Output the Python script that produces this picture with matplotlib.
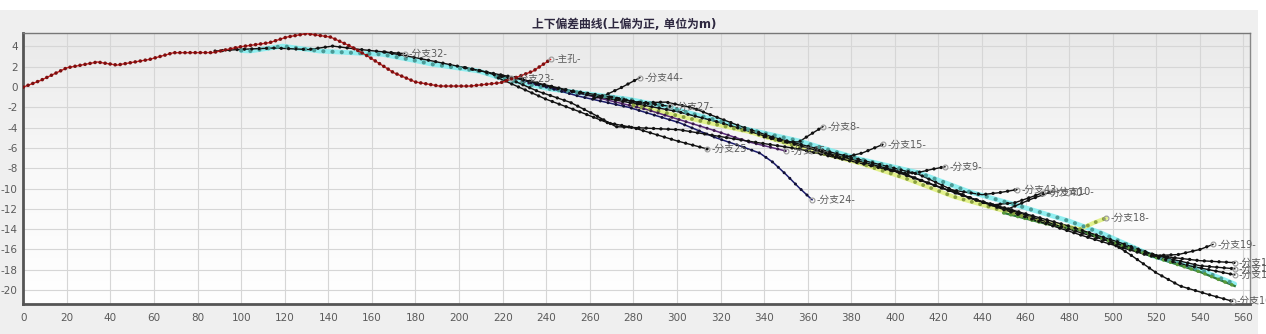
import numpy as np
import matplotlib
matplotlib.use('Agg')
import matplotlib.pyplot as plt
from matplotlib.patches import Rectangle
from matplotlib.colors import LinearSegmentedColormap

plt.rcParams['font.family'] = ['DejaVu Sans', 'Noto Sans CJK SC']
plt.rcParams['axes.unicode_minus'] = False

TITLE = '上下偏差曲线(上偏为正, 单位为m)'
x_ticks = list(range(0, 561, 20))
y_ticks = list(range(-20, 5, 2))

# ---- series data (x = depth m, y = deviation m) ----
main_x = [0, 8, 20, 34, 43, 58, 69, 87, 99, 113, 121, 130, 141, 150, 158, 170, 180, 191, 205, 219, 226, 234, 242]
main_y = [0, 0.66, 1.9, 2.47, 2.17, 2.73, 3.39, 3.4, 3.95, 4.38, 4.93, 5.27, 4.93, 4.04, 3.06, 1.42, 0.5, 0.1, 0.1, 0.43, 0.93, 1.58, 2.73]

b32_x = [88, 100, 115, 131, 142, 154, 166, 175]
b32_y = [3.55, 3.72, 3.85, 3.7, 4.04, 3.72, 3.45, 3.3]

cyan_x = [100, 104, 119, 136, 150, 165, 180, 188, 209, 219, 242, 255, 278, 294, 317, 329, 356, 384, 411, 434, 457, 480, 495, 518, 540, 556]
cyan_y = [3.6, 3.55, 4.04, 3.55, 3.39, 3.22, 2.6, 2.24, 1.58, 0.9, -0.2, -0.55, -1.2, -1.87, -3.2, -4.0, -5.3, -7.1, -8.44, -10.3, -11.7, -13.2, -14.4, -16.6, -18.0, -19.4]

trunk_x = [166, 180, 188, 203, 218, 226, 240, 260, 280, 300, 320, 340, 360, 380, 400, 420, 440, 460, 480, 500, 520, 540, 556]
trunk_y = [3.45, 2.9, 2.56, 1.9, 1.25, 0.93, 0.1, -0.8, -1.6, -2.4, -3.5, -4.8, -6.0, -7.1, -8.2, -9.8, -11.3, -12.6, -14.0, -15.3, -16.6, -17.1, -17.3]

t2_x = [226, 250, 270, 283, 295, 307, 317, 329, 345, 365, 385, 411, 434, 457, 480, 503, 520, 540, 556]
t2_y = [0.9, -0.3, -1.0, -1.54, -1.48, -2.03, -2.86, -3.85, -5.0, -6.1, -7.2, -8.6, -10.9, -12.3, -13.7, -15.3, -16.6, -17.6, -17.9]

t3_x = [220, 236, 251, 262, 272, 301, 329, 356, 380, 400, 430, 460, 490, 515, 535, 556]
t3_y = [1.1, -0.4, -1.5, -2.7, -3.9, -4.2, -5.2, -6.1, -7.3, -8.3, -10.6, -12.8, -14.9, -16.5, -17.6, -18.5]

b23_x = [203, 212, 218, 224]
b23_y = [1.9, 1.5, 1.1, 0.85]

b25_x = [218, 240, 255, 268, 280, 300, 314]
b25_y = [0.9, -1.2, -2.4, -3.5, -4.0, -5.3, -6.1]

b27_x = [270, 282, 290, 297]
b27_y = [-1.0, -1.5, -1.7, -1.9]

b44_x = [262, 266, 274, 283]
b44_y = [-1.1, -0.9, -0.1, 0.93]

navy_x = [226, 240, 255, 278, 301, 318, 329, 338, 344, 350, 356, 362]
navy_y = [0.9, 0.0, -0.9, -2.0, -3.5, -5.0, -5.8, -6.5, -7.4, -8.6, -9.9, -11.1]

purple_x = [232, 255, 286, 316, 333, 350]
purple_y = [0.4, -0.6, -2.2, -4.2, -5.4, -6.3]

yellow_x = [280, 310, 333, 356, 384, 405, 427, 450, 470, 485, 491, 497]
yellow_y = [-1.8, -3.3, -4.4, -5.9, -7.5, -9.0, -10.8, -12.2, -13.4, -14.0, -13.4, -12.9]

green_x = [450, 470, 485, 500, 520, 540, 556]
green_y = [-12.4, -13.5, -14.1, -15.3, -16.8, -18.2, -19.6]

b8_x = [340, 350, 356, 361, 367]
b8_y = [-4.9, -5.4, -5.4, -4.7, -3.9]

b15_x = [365, 375, 385, 394.5]
b15_y = [-6.3, -7.0, -6.5, -5.65]

b9_x = [398, 405, 411, 417, 423]
b9_y = [-8.2, -8.5, -8.4, -8.1, -7.85]

b43_x = [425, 440, 448, 456]
b43_y = [-10.1, -10.6, -10.4, -10.1]

b40_x = [445, 455, 463, 468]
b40_y = [-11.6, -11.4, -10.8, -10.4]

b10_x = [452, 463, 472]
b10_y = [-12.0, -11.0, -10.3]

b19_x = [520, 530, 540, 546]
b19_y = [-16.6, -16.5, -16.0, -15.5]

low_x = [500, 508, 520, 531, 545, 555]
low_y = [-15.4, -16.5, -18.3, -19.6, -20.5, -21.1]

# ---- styles ----
STY = {
    'red':    dict(line='#d02020', lw=1.0, dot='#7a1010', ds=2.6, sp=1.4),
    'black':  dict(line='#111111', lw=1.0, dot='#111111', ds=2.4, sp=2.2),
    'navy':   dict(line='#1a1a6a', lw=1.1, dot='#111133', ds=2.2, sp=2.6),
    'purple': dict(line='#5a2a7a', lw=1.1, dot='#3a1a4a', ds=2.2, sp=2.4),
    'cyan':   dict(line='#86eef0', lw=3.4, dot='#4a9a96', ds=3.0, sp=2.2),
    'yellow': dict(line='#e0f080', lw=3.0, dot='#8aa040', ds=2.8, sp=2.2),
    'green':  dict(line='#2f7a3a', lw=1.6, dot='#5a9a3a', ds=2.6, sp=2.0),
}

series = [
    ('cyan', cyan_x, cyan_y, None),
    ('yellow', yellow_x, yellow_y, '-分支18-'),
    ('green', green_x, green_y, None),
    ('purple', purple_x, purple_y, '-分支45-'),
    ('navy', navy_x, navy_y, '-分支24-'),
    ('black', b32_x, b32_y, '-分支32-'),
    ('black', trunk_x, trunk_y, '-分支11-'),
    ('black', t2_x, t2_y, '-分支12-'),
    ('black', t3_x, t3_y, '-分支13-'),
    ('black', b23_x, b23_y, '-分支23-'),
    ('black', b25_x, b25_y, '-分支25-'),
    ('black', b27_x, b27_y, '-分支27-'),
    ('black', b44_x, b44_y, '-分支44-'),
    ('black', b8_x, b8_y, '-分支8-'),
    ('black', b15_x, b15_y, '-分支15-'),
    ('black', b9_x, b9_y, '-分支9-'),
    ('black', b43_x, b43_y, '-分支43-'),
    ('black', b40_x, b40_y, '-分支40-'),
    ('black', b10_x, b10_y, '-分支10-'),
    ('black', b19_x, b19_y, '-分支19-'),
    ('black', low_x, low_y, '-分支16-'),
    ('red', main_x, main_y, '-主孔-'),
]

fig = plt.figure(figsize=(12.66, 3.34), dpi=100)
fig.patch.set_facecolor('white')
fig.add_artist(Rectangle((0, 0), 1258 / 1266, 1 - 10 / 334, transform=fig.transFigure,
                         facecolor='#efefef', edgecolor='none', zorder=-10))

ax = fig.add_axes([23.3 / 1266, 1 - 304.3 / 334, (1250 - 23.3) / 1266, (304.3 - 33.3) / 334])
grad = np.linspace(0, 1, 256).reshape(-1, 1)
cmap = LinearSegmentedColormap.from_list('g', [(0, '#e9e9e9'), (0.5, '#f9f9f9'), (1, '#ffffff')])
ax.imshow(grad, cmap=cmap, extent=[0, 1, 0, 1], transform=ax.transAxes, aspect='auto', zorder=0)

for kind, xs, ys, lab in series:
    s = STY[kind]
    if kind in ('cyan', 'yellow'):
        ax.plot(xs, ys, color=s['line'], lw=s['lw'], alpha=0.9, solid_capstyle='round', zorder=2)
    else:
        ax.plot(xs, ys, color=s['line'], lw=s['lw'], zorder=3 if kind != 'red' else 5)
    ax.plot(xs, ys, color=s['dot'], lw=s['ds'], linestyle=(0, (0.01, s['sp'])),
            dash_capstyle='round', zorder=3.5 if kind != 'red' else 5.5)
    if lab:
        ax.plot([xs[-1]], [ys[-1]], marker='o', ms=3.5, mfc='none', mec='#9a9a9a', mew=0.8, zorder=6)
        ax.annotate(lab, (xs[-1], ys[-1]), xytext=(3, 0), textcoords='offset points',
                    fontsize=7, color='#5a5a5a', va='center', ha='left', zorder=7,
                    annotation_clip=False)

ax.set_xlim(0, 563)
ax.set_ylim(-21.4, 5.3)
ax.set_xticks(x_ticks)
ax.set_yticks(y_ticks)
ax.set_xticklabels([str(v) for v in x_ticks])
ax.set_yticklabels([str(v) for v in y_ticks])
ax.tick_params(axis='both', length=0, labelsize=7.5, labelcolor='#5a5a5a')
ax.tick_params(axis='x', pad=6)
ax.tick_params(axis='y', pad=4)
ax.set_axisbelow(True)
ax.grid(True, color='#d6d6d6', lw=0.8)
for side, (c, w) in {'left': ('#555555', 2.0), 'bottom': ('#555555', 2.0),
                     'top': ('#777777', 1.0), 'right': ('#888888', 1.0)}.items():
    ax.spines[side].set_color(c)
    ax.spines[side].set_linewidth(w)

fig.text(0.493, 1 - 25 / 334, TITLE, ha='center', va='center', fontsize=8.5,
         color='#2e2840', fontweight='bold')

fig.savefig('out.png', dpi=100, facecolor=fig.get_facecolor())
